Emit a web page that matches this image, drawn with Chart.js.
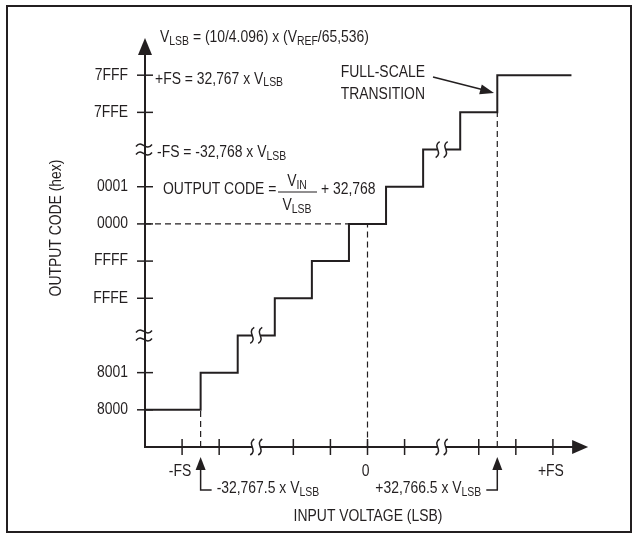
<!DOCTYPE html>
<html>
<head>
<meta charset="utf-8">
<title>Transfer function</title>
<script src="https://cdn.jsdelivr.net/npm/chart.js@4.4.1/dist/chart.umd.min.js"></script>
<style>
  html, body { margin: 0; padding: 0; background: #fff; }
  canvas { display: block; }
</style>
</head>
<body>
<canvas id="transferChart" width="638" height="539"></canvas>
<script>
// --- Data (schematic units: one LSB step = 1) ---
const codeLevels = [1, 2, 4, 5, 6, 7, 9, 10];
const codeLabels = ['8000', '8001', 'FFFE', 'FFFF', '0000', '0001', '7FFE', '7FFF'];
const codeBreaks = [3, 8];

const inputTicks = [1, 2, 4, 5, 6, 7, 9, 10, 11];
const inputLabels = ['-FS', '', '', '', '0', '', '', '', '+FS'];
const inputBreaks = [3, 8];

// staircase corners (transition points) and output level after each
const stepX = [0, 1.5, 2.5, 3.5, 4.5, 5.5, 6.5, 7.5, 8.5, 9.5, 11.5];
const stepY = [1, 2, 3, 4, 5, 6, 7, 8, 9, 10, 10];
const stepBreaks = [[3, 3], [8, 8]];

const negTransition = 1.5;   // -32,767.5 LSB
const zeroCode = 6;          // 0000 at input 0
const posTransition = 9.5;   // +32,766.5 LSB

const INK = '#231f20';
const FONT = '"Liberation Sans", Arial, sans-serif';
const SQUEEZE = 0.87;        // condensed look
const SUB = 12;

// --- Text helpers ---
function setFont(ctx, size) { ctx.font = size + 'px ' + FONT; }

function richWidth(ctx, parts) {
    let w = 0;
    parts.forEach(p => {
        setFont(ctx, p.sub ? SUB : 16);
        w += ctx.measureText(p.t).width;
    });
    return w * SQUEEZE;
}

function drawRich(ctx, parts, x, y, align) {
    const w = richWidth(ctx, parts);
    const start = align === 'right' ? x - w : align === 'center' ? x - w / 2 : x;
    ctx.save();
    ctx.translate(start, y);
    ctx.scale(SQUEEZE, 1);
    ctx.textAlign = 'left';
    ctx.textBaseline = 'middle';
    let cx = 0;
    parts.forEach(p => {
        setFont(ctx, p.sub ? SUB : 16);
        ctx.fillText(p.t, cx, p.sub ? 4 : 0);
        cx += ctx.measureText(p.t).width;
    });
    ctx.restore();
}

function arrowHead(ctx, tipX, tipY, dirX, dirY, len, half) {
    const bx = tipX - dirX * len, by = tipY - dirY * len;
    ctx.beginPath();
    ctx.moveTo(tipX, tipY);
    ctx.lineTo(bx - dirY * half, by + dirX * half);
    ctx.lineTo(bx + dirY * half, by - dirX * half);
    ctx.closePath();
    ctx.fill();
}

// vertical "))" break mark across a horizontal line
function vBreak(ctx, cx, cy) {
    ctx.save();
    ctx.fillStyle = '#fff';
    ctx.fillRect(cx - 4, cy - 3, 8, 6);
    ctx.strokeStyle = INK;
    ctx.lineWidth = 1.5;
    [-4, 4].forEach(dx => {
        ctx.beginPath();
        ctx.moveTo(cx + dx + 2, cy - 8);
        ctx.bezierCurveTo(cx + dx - 6, cy - 3, cx + dx + 6, cy + 3, cx + dx - 2, cy + 8);
        ctx.stroke();
    });
    ctx.restore();
}

// horizontal "≈" break mark across a vertical line
function hBreak(ctx, cx, cy) {
    ctx.save();
    ctx.strokeStyle = INK;
    ctx.lineWidth = 1.5;
    [-4, 4].forEach(dy => {
        ctx.beginPath();
        ctx.moveTo(cx - 9, cy + dy + 1);
        ctx.bezierCurveTo(cx - 3, cy + dy - 7, cx + 1, cy + dy + 7, cx + 7, cy + dy - 1);
        ctx.stroke();
    });
    ctx.restore();
}

const diagramPlugin = {
    id: 'diagram',
    afterDatasetsDraw(chart) {
        const { ctx, scales: { x, y } } = chart;
        const px = v => x.getPixelForValue(v);
        const py = v => y.getPixelForValue(v);
        ctx.save();
        ctx.fillStyle = INK;
        ctx.strokeStyle = INK;

        // frame
        ctx.lineWidth = 2;
        ctx.strokeRect(7, 6, 624, 526);

        // axes
        const x0 = px(0), y0 = py(0);
        ctx.lineWidth = 2;
        ctx.beginPath();
        ctx.moveTo(x0, y0); ctx.lineTo(x0, py(11) + 12);
        ctx.moveTo(x0 - 1, y0); ctx.lineTo(px(11.95) - 12, y0);
        ctx.stroke();
        arrowHead(ctx, x0, py(11), 0, -1, 17, 7);
        arrowHead(ctx, px(11.95), y0, 1, 0, 16, 7);

        // y ticks + labels
        ctx.lineWidth = 1.5;
        codeLevels.forEach((v, i) => {
            ctx.beginPath();
            ctx.moveTo(x0 - 8, py(v)); ctx.lineTo(x0 + 8, py(v));
            ctx.stroke();
            drawRich(ctx, [{ t: codeLabels[i] }], x0 - 17, py(v), 'right');
        });
        codeBreaks.forEach(v => hBreak(ctx, x0, py(v)));

        // x ticks + labels
        inputTicks.forEach((v, i) => {
            ctx.beginPath();
            ctx.moveTo(px(v), y0 - 8); ctx.lineTo(px(v), y0 + 8);
            ctx.stroke();
            if (inputLabels[i]) drawRich(ctx, [{ t: inputLabels[i] }], px(v) - 2, 472, 'center');
        });
        inputBreaks.forEach(v => vBreak(ctx, px(v), y0));

        // breaks on the staircase
        stepBreaks.forEach(([bx, by]) => vBreak(ctx, px(bx), py(by)));

        // annotations
        drawRich(ctx, [{ t: 'V' }, { t: 'LSB', sub: true }, { t: ' = (10/4.096) x (V' },
                       { t: 'REF', sub: true }, { t: '/65,536)' }], 160, 38, 'left');
        drawRich(ctx, [{ t: '+FS = 32,767 x V' }, { t: 'LSB', sub: true }], 155, py(10) + 4, 'left');
        drawRich(ctx, [{ t: '-FS = -32,768 x V' }, { t: 'LSB', sub: true }], 157, py(8) + 3, 'left');
        drawRich(ctx, [{ t: 'OUTPUT CODE =' }], 163, 190, 'left');
        drawRich(ctx, [{ t: 'V' }, { t: 'IN', sub: true }], 297, 182, 'center');
        ctx.lineWidth = 1.2;
        ctx.beginPath(); ctx.moveTo(278, 192); ctx.lineTo(317, 192); ctx.stroke();
        drawRich(ctx, [{ t: 'V' }, { t: 'LSB', sub: true }], 297, 206, 'center');
        drawRich(ctx, [{ t: '+ 32,768' }], 321, 190, 'left');

        drawRich(ctx, [{ t: 'FULL-SCALE' }], 425, 73, 'right');
        drawRich(ctx, [{ t: 'TRANSITION' }], 425, 95, 'right');
        ctx.lineWidth = 1.5;
        ctx.beginPath(); ctx.moveTo(433, 77); ctx.lineTo(484, 90); ctx.stroke();
        arrowHead(ctx, 494, 93, 0.965, 0.262, 14, 5);

        // transition arrows under the x axis
        const nx = px(negTransition), pxT = px(posTransition);
        ctx.lineWidth = 1.5;
        ctx.beginPath();
        ctx.moveTo(nx, 468); ctx.lineTo(nx, 490); ctx.lineTo(nx + 11, 490);
        ctx.moveTo(pxT, 468); ctx.lineTo(pxT, 490); ctx.lineTo(pxT - 11, 490);
        ctx.stroke();
        arrowHead(ctx, nx, 457, 0, -1, 13, 5);
        arrowHead(ctx, pxT, 457, 0, -1, 13, 5);
        drawRich(ctx, [{ t: '-32,767.5 x V' }, { t: 'LSB', sub: true }], nx + 16, 489, 'left');
        drawRich(ctx, [{ t: '+32,766.5 x V' }, { t: 'LSB', sub: true }], pxT - 16, 489, 'right');

        drawRich(ctx, [{ t: 'INPUT VOLTAGE (LSB)' }], 368, 517, 'center');

        // y title
        ctx.save();
        ctx.translate(57, 228);
        ctx.rotate(-Math.PI / 2);
        drawRich(ctx, [{ t: 'OUTPUT CODE (hex)' }], 0, 0, 'center');
        ctx.restore();

        ctx.restore();
    }
};

const dashStyle = {
    borderColor: INK, borderWidth: 1.2, borderDash: [6, 4],
    pointRadius: 0, fill: false, tension: 0
};

new Chart(document.getElementById('transferChart').getContext('2d'), {
    type: 'line',
    data: {
        datasets: [
            {
                label: 'Output code',
                data: stepX.map((v, i) => ({ x: v, y: stepY[i] })),
                stepped: 'before',
                borderColor: INK, borderWidth: 2, pointRadius: 0, fill: false
            },
            Object.assign({ data: [{ x: negTransition, y: 0 }, { x: negTransition, y: 1 }] }, dashStyle),
            Object.assign({ data: [{ x: 0, y: zeroCode }, { x: 6, y: zeroCode }, { x: 6, y: 0 }] }, dashStyle),
            Object.assign({ data: [{ x: posTransition, y: 0 }, { x: posTransition, y: 9 }] }, dashStyle)
        ]
    },
    options: {
        responsive: false,
        animation: false,
        layout: { padding: { left: 145, right: 48, top: 38, bottom: 92 } },
        plugins: { legend: { display: false }, tooltip: { enabled: false } },
        scales: {
            x: { type: 'linear', min: 0, max: 12, display: false },
            y: { type: 'linear', min: 0, max: 11, display: false }
        }
    },
    plugins: [diagramPlugin]
});
</script>
</body>
</html>
